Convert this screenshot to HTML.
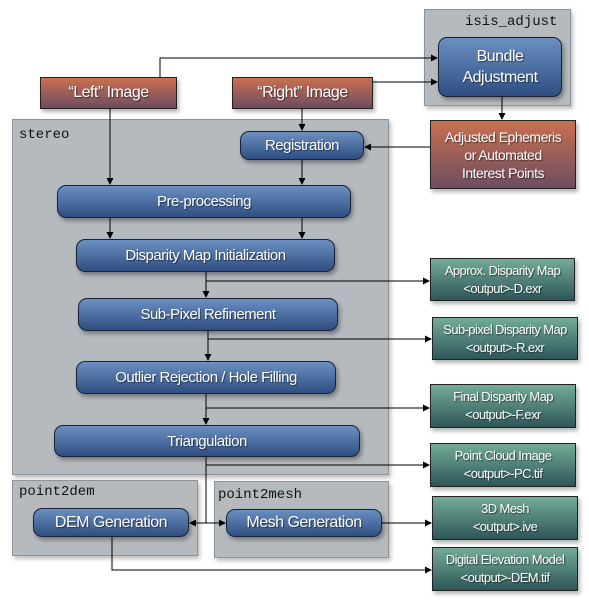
<!DOCTYPE html>
<html><head><meta charset="utf-8"><style>
body{margin:0;width:589px;height:605px;background:#fff;position:relative;overflow:hidden;font-family:"Liberation Sans",sans-serif}
.c{position:absolute;background:#b5babe;border:1px solid #8e9397;box-shadow:2px 3px 4px rgba(0,0,0,.25)}
.lab{position:absolute;font-family:"Liberation Mono",monospace;font-size:14px;color:#111}
.b{position:absolute;border:1px solid #1a2233;border-radius:9px;background:linear-gradient(#6b8fc0,#2f4f82);color:#fff;display:flex;align-items:center;justify-content:center;text-align:center;font-size:15px;letter-spacing:-0.5px;text-shadow:1px 1px 1px rgba(0,0,0,.5);box-shadow:2px 3px 4px rgba(0,0,0,.35);box-sizing:border-box}
.o{position:absolute;border:1px solid #222;background:linear-gradient(#c9704f,#6e4d60);color:#fff;display:flex;align-items:center;justify-content:center;text-align:center;font-size:14px;letter-spacing:-0.5px;text-shadow:1px 1px 1px rgba(0,0,0,.5);box-shadow:2px 3px 4px rgba(0,0,0,.3);box-sizing:border-box;line-height:18px}
.g{position:absolute;border:1px solid #222;background:linear-gradient(#74ab98,#2e5659);color:#fff;display:flex;align-items:center;justify-content:center;text-align:center;font-size:13px;letter-spacing:-0.6px;text-shadow:1px 1px 1px rgba(0,0,0,.5);box-shadow:2px 3px 4px rgba(0,0,0,.3);box-sizing:border-box;line-height:18px}
</style></head><body>
<div class="c" style="left:424px;top:9px;width:145px;height:95px"></div>
<div class="lab" style="left:465px;top:14px">isis_adjust</div>
<div class="c" style="left:12px;top:119px;width:375px;height:354px"></div>
<div class="lab" style="left:19px;top:127px">stereo</div>
<div class="c" style="left:12px;top:480px;width:184px;height:74px"></div>
<div class="lab" style="left:19px;top:484px">point2dem</div>
<div class="c" style="left:214px;top:481px;width:173px;height:75px"></div>
<div class="lab" style="left:218px;top:487px">point2mesh</div>

<div class="b" style="left:438px;top:37px;width:124px;height:60px;font-size:16px;line-height:21px">Bundle<br>Adjustment</div>
<div class="o" style="left:40px;top:77px;width:137px;height:32px;font-size:16px">“Left” Image</div>
<div class="o" style="left:232px;top:77px;width:141px;height:32px;font-size:16px">“Right” Image</div>
<div class="o" style="left:430px;top:120px;width:146px;height:69px;font-size:14px">Adjusted Ephemeris<br>or Automated<br>Interest Points</div>
<div class="b" style="left:240px;top:131px;width:124px;height:29px">Registration</div>
<div class="b" style="left:57px;top:185px;width:294px;height:33px">Pre-processing</div>
<div class="b" style="left:76px;top:239px;width:259px;height:33px">Disparity Map Initialization</div>
<div class="b" style="left:78px;top:298px;width:260px;height:33px">Sub-Pixel Refinement</div>
<div class="b" style="left:76px;top:361px;width:260px;height:33px">Outlier Rejection / Hole Filling</div>
<div class="b" style="left:54px;top:425px;width:306px;height:32px">Triangulation</div>
<div class="b" style="left:33px;top:508px;width:156px;height:29px;font-size:16px">DEM Generation</div>
<div class="b" style="left:226px;top:509px;width:156px;height:28px;font-size:16px">Mesh Generation</div>

<div class="g" style="left:430px;top:258px;width:145px;height:43px">Approx. Disparity Map<br>&lt;output&gt;-D.exr</div>
<div class="g" style="left:432px;top:317px;width:146px;height:43px">Sub-pixel Disparity Map<br>&lt;output&gt;-R.exr</div>
<div class="g" style="left:430px;top:384px;width:146px;height:44px">Final Disparity Map<br>&lt;output&gt;-F.exr</div>
<div class="g" style="left:430px;top:443px;width:146px;height:44px">Point Cloud Image<br>&lt;output&gt;-PC.tif</div>
<div class="g" style="left:432px;top:496px;width:146px;height:44px">3D Mesh<br>&lt;output&gt;.ive</div>
<div class="g" style="left:432px;top:547px;width:146px;height:44px">Digital Elevation Model<br>&lt;output&gt;-DEM.tif</div>

<svg width="589" height="605" style="position:absolute;left:0;top:0" fill="none" stroke="#000" stroke-width="1">
<defs><marker id="a" markerWidth="7" markerHeight="7" refX="6" refY="3.5" orient="auto" markerUnits="userSpaceOnUse"><path d="M0,0L7,3.5L0,7z" fill="#000" stroke="none"/></marker></defs>
<path d="M160,77V58H437" marker-end="url(#a)"/>
<path d="M373,82H437" marker-end="url(#a)"/>
<path d="M502,97V119" marker-end="url(#a)"/>
<path d="M430,147H365" marker-end="url(#a)"/>
<path d="M110,109V184" marker-end="url(#a)"/>
<path d="M302,109V130" marker-end="url(#a)"/>
<path d="M302,160V184" marker-end="url(#a)"/>
<path d="M110,218V238" marker-end="url(#a)"/>
<path d="M302,218V238" marker-end="url(#a)"/>
<path d="M206,272V297" marker-end="url(#a)"/>
<path d="M206,281H429" marker-end="url(#a)"/>
<path d="M208,331V360" marker-end="url(#a)"/>
<path d="M208,339H431" marker-end="url(#a)"/>
<path d="M206,394V424" marker-end="url(#a)"/>
<path d="M206,408H429" marker-end="url(#a)"/>
<path d="M206,457V523"/>
<path d="M206,465H429" marker-end="url(#a)"/>
<path d="M206,523H190" marker-end="url(#a)"/>
<path d="M206,523H225" marker-end="url(#a)"/>
<path d="M382,523H431" marker-end="url(#a)"/>
<path d="M112,537V570H431" marker-end="url(#a)"/>
</svg>
</body></html>
